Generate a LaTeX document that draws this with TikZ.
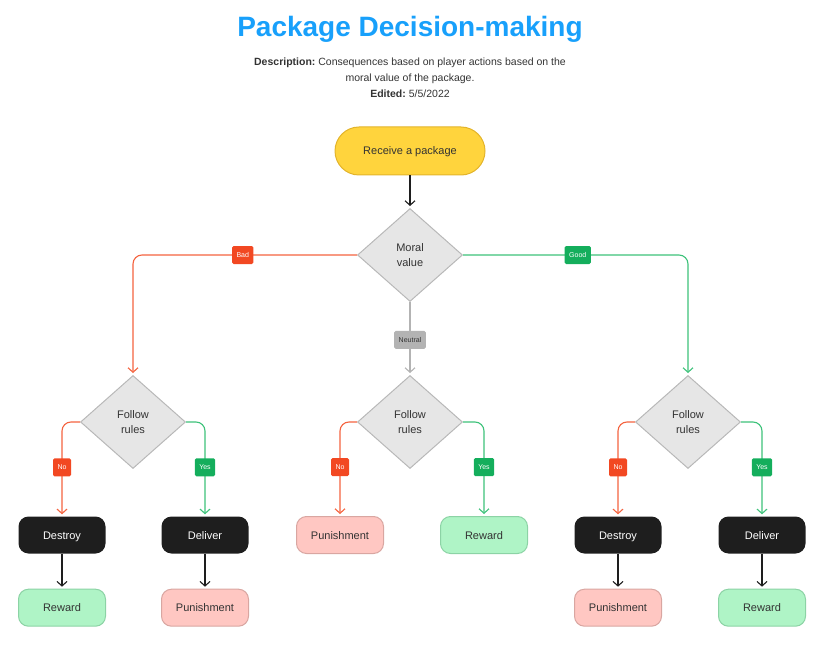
\documentclass[tikz,border=0pt]{standalone}
\usepackage{fontspec}
\setmainfont{Liberation Sans}
\usetikzlibrary{shapes.geometric,positioning,arrows.meta}
\definecolor{titleblue}{HTML}{18A0FB}
\definecolor{textdark}{HTML}{333333}
\definecolor{startfill}{HTML}{FFD43D}
\definecolor{startborder}{HTML}{E3B42B}
\definecolor{decfill}{HTML}{E6E6E6}
\definecolor{decborder}{HTML}{B8B8B8}
\definecolor{actionblack}{HTML}{1E1E1E}
\definecolor{badred}{HTML}{F24822}
\definecolor{badline}{HTML}{F4633F}
\definecolor{goodgreen}{HTML}{14AE5C}
\definecolor{goodline}{HTML}{3DC27A}
\definecolor{neutralgray}{HTML}{B3B3B3}
\definecolor{punfill}{HTML}{FFC7C2}
\definecolor{punborder}{HTML}{D9A6A1}
\definecolor{rewfill}{HTML}{AFF4C6}
\definecolor{rewborder}{HTML}{8CD3A5}

\begin{document}
\begin{tikzpicture}[x=1pt,y=-1pt,
    font=\fontsize{11}{13}\selectfont,
    box/.style={rounded corners=10pt, minimum width=87pt, minimum height=37pt,
      text height=9pt, text depth=1pt, inner ysep=0pt},
    start/.style={draw=startborder, fill=startfill, line width=1pt, rounded corners=24pt,
      minimum width=150pt, minimum height=48pt, text height=9pt, text depth=1pt, text=textdark},
    decision/.style={diamond, draw=decborder, fill=decfill, line width=1pt, inner sep=0pt,
      minimum width=105pt, minimum height=93pt, align=center, text=textdark,
      font=\fontsize{11}{15}\selectfont},
    action/.style={box, fill=actionblack, text=white},
    punish/.style={box, draw=punborder, fill=punfill, line width=1pt, text=textdark},
    reward/.style={box, draw=rewborder, fill=rewfill, line width=1pt, text=textdark},
    tag/.style={rounded corners=1.5pt, inner sep=0pt, inner xsep=4.5pt, minimum height=18pt,
      minimum width=18pt, text=white, font=\fontsize{7}{8}\selectfont},
    badtag/.style={tag, fill=badred},
    goodtag/.style={tag, fill=goodgreen},
    neutraltag/.style={tag, fill=neutralgray, text=textdark},
    link/.style={line width=1.1pt, rounded corners=9pt, shorten >=2pt,
      -{Straight Barb[length=4.5pt,width=10pt]}},
    badlink/.style={link, draw=badline},
    goodlink/.style={link, draw=goodline},
    neutrallink/.style={link, draw=neutralgray},
    plainlink/.style={link, draw=actionblack}]

    \useasboundingbox (0,0) rectangle (817,650);

    \node (title) at (410,29) {\fontsize{28}{32}\selectfont\bfseries\color{titleblue}Package Decision-making};
    \node[align=center, text=textdark, font=\fontsize{10.5}{16}\selectfont] (desc) at (410,78)
      {\textbf{Description:}\ Consequences based on player actions based on the\\
       moral value of the package.\\
       \textbf{Edited:}\ 5/5/2022};

    \node[start]    (receive) at (410,151) {Receive a package};
    \node[decision] (moral)   at (410,255) {Moral\\value};

    \node[decision] (rules_bad)     at (133,422) {Follow\\rules};
    \node[decision] (rules_neutral) at (410,422) {Follow\\rules};
    \node[decision] (rules_good)    at (688,422) {Follow\\rules};

    \node[action] (destroy_bad)  at (62,535)  {Destroy};
    \node[action] (deliver_bad)  at (205,535) {Deliver};
    \node[punish] (pun_neutral)  at (340,535) {Punishment};
    \node[reward] (rew_neutral)  at (484,535) {Reward};
    \node[action] (destroy_good) at (618,535) {Destroy};
    \node[action] (deliver_good) at (762,535) {Deliver};

    \node[reward] (rew_bad1)  [below=35pt of destroy_bad]  {Reward};
    \node[punish] (pun_bad2)  [below=35pt of deliver_bad]  {Punishment};
    \node[punish] (pun_good1) [below=35pt of destroy_good] {Punishment};
    \node[reward] (rew_good2) [below=35pt of deliver_good] {Reward};

    \draw[plainlink] (receive) -- (moral);
    \draw[badlink] (moral.west) -| node[pos=.255, badtag] {Bad} (rules_bad.north);
    \draw[goodlink] (moral.east) -| node[pos=.255, goodtag] {Good} (rules_good.north);
    \draw[neutrallink] (moral.south) -- node[pos=.52, neutraltag] {Neutral} (rules_neutral.north);

    \draw[badlink] (rules_bad.west) -| node[pos=.74, badtag] {No} (destroy_bad.north);
    \draw[goodlink] (rules_bad.east) -| node[pos=.74, goodtag] {Yes} (deliver_bad.north);
    \draw[badlink] (rules_neutral.west) -| node[pos=.74, badtag] {No} (pun_neutral.north);
    \draw[goodlink] (rules_neutral.east) -| node[pos=.74, goodtag] {Yes} (rew_neutral.north);
    \draw[badlink] (rules_good.west) -| node[pos=.74, badtag] {No} (destroy_good.north);
    \draw[goodlink] (rules_good.east) -| node[pos=.74, goodtag] {Yes} (deliver_good.north);

    \path[plainlink]
      (destroy_bad)  edge (rew_bad1)
      (deliver_bad)  edge (pun_bad2)
      (destroy_good) edge (pun_good1)
      (deliver_good) edge (rew_good2);
\end{tikzpicture}
\end{document}
